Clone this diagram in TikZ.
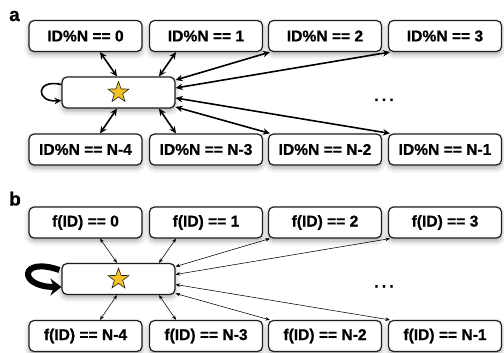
\documentclass[tikz,border=0pt]{standalone}
\usepackage{fontspec}
\setmainfont{Liberation Sans}[BoldFeatures={FakeBold=0.7}]
\usetikzlibrary{arrows.meta,shapes.geometric,calc,shadows.blur}
\definecolor{starfill}{HTML}{F5C127}
\definecolor{boxline}{HTML}{1E1E1E}
\tikzset{
 statebox/.style={draw=boxline, line width=1.2pt, rounded corners=5pt, fill=white,
   minimum width=113pt, minimum height=31pt, inner sep=0pt,
   font=\fontsize{15.6}{18}\selectfont\bfseries,
   blur shadow={shadow xshift=0pt, shadow yshift=-3pt, shadow blur radius=5pt, shadow opacity=35}},
 starmark/.style={star, star points=5, star point ratio=2.5, minimum size=22pt, inner sep=0pt,
   fill=starfill, draw=boxline, line width=0.6pt},
 linkA/.style={line width=1.6pt, {Stealth[length=7pt,width=6.5pt]}-{Stealth[length=7pt,width=6.5pt]}},
 linkB/.style={line width=0.55pt, {Stealth[length=4.5pt,width=3.6pt]}-{Stealth[length=4.5pt,width=3.6pt]}},
 loopA/.style={line width=1.6pt, -{Stealth[length=7pt,width=6.5pt]}},
 loopB/.style={line width=6pt, -{Stealth[length=11pt,width=17pt]}},
 panellabel/.style={font=\fontsize{19}{22}\selectfont\bfseries, inner sep=0pt, anchor=base west},
 dotslabel/.style={font=\fontsize{16}{18}\selectfont\bfseries, inner sep=0pt, anchor=base}
}
\newcommand\lbla[1]{ID\%N == #1}
\newcommand\lblb[1]{f(ID) == #1}
% #1 prefix, #2 y offset, #3 text macro, #4 link style
\newcommand\drawpanel[4]{%
 \node[statebox] (#1t0) at (85.5, 36+#2) {#3{0}};
 \node[statebox] (#1t1) at (206, 36+#2) {#3{1}};
 \node[statebox] (#1t2) at (325, 36+#2) {#3{2}};
 \node[statebox] (#1t3) at (445, 36+#2) {#3{3}};
 \node[statebox] (#1b0) at (85.5, 149.5+#2) {#3{N-4}};
 \node[statebox] (#1b1) at (206, 149.5+#2) {#3{N-3}};
 \node[statebox] (#1b2) at (325, 149.5+#2) {#3{N-2}};
 \node[statebox] (#1b3) at (445, 149.5+#2) {#3{N-1}};
 \node[statebox] (#1c) at (118.5, 92.5+#2) {};
 \node[starmark] (#1star) at (#1c.center) {};
 \node[dotslabel] (#1dots) at (384, 101+#2) {.\hspace{3pt}.\hspace{3pt}.};
 \draw[#4] ([xshift=14.5pt]#1t0.south) -- ([xshift=-1.5pt]#1c.north);
 \draw[#4] ([xshift=-30pt]#1t1.south) -- ([xshift=40.5pt]#1c.north);
 \draw[#4] ([xshift=14.5pt]#1b0.north) -- ([xshift=-1.5pt]#1c.south);
 \draw[#4] ([xshift=-30pt]#1b1.north) -- ([xshift=40.5pt]#1c.south);
 \draw[#4] ([yshift=12.5pt]#1c.east) -- ([xshift=2pt]#1t2.south west);
 \draw[#4] ([yshift=4.5pt]#1c.east) -- ([xshift=2pt]#1t3.south west);
 \draw[#4] ([yshift=-5.5pt]#1c.east) -- ([xshift=2pt]#1b3.north west);
 \draw[#4] ([yshift=-14.5pt]#1c.east) -- ([xshift=2pt]#1b2.north west);
}
\begin{document}
\begin{tikzpicture}[x=1pt,y=-1pt]
\useasboundingbox (0,0) rectangle (504,353);
\node[panellabel] (la) at (9,21) {a};
\node[panellabel] (lb) at (9,205.5) {b};
\drawpanel{A}{0}{\lbla}{linkA}
\drawpanel{B}{186.5}{\lblb}{linkB}
\draw[loopA] ($(Ac.west)+(0,-8)$) .. controls +(-26,-6) and +(-26,2) .. ($(Ac.west)+(0,8)$);
\draw[loopB] ($(Bc.west)+(-2,-9)$) .. controls +(-40,-14) and +(-44,0) .. ($(Bc.west)+(0,8)$);
\end{tikzpicture}
\end{document}
